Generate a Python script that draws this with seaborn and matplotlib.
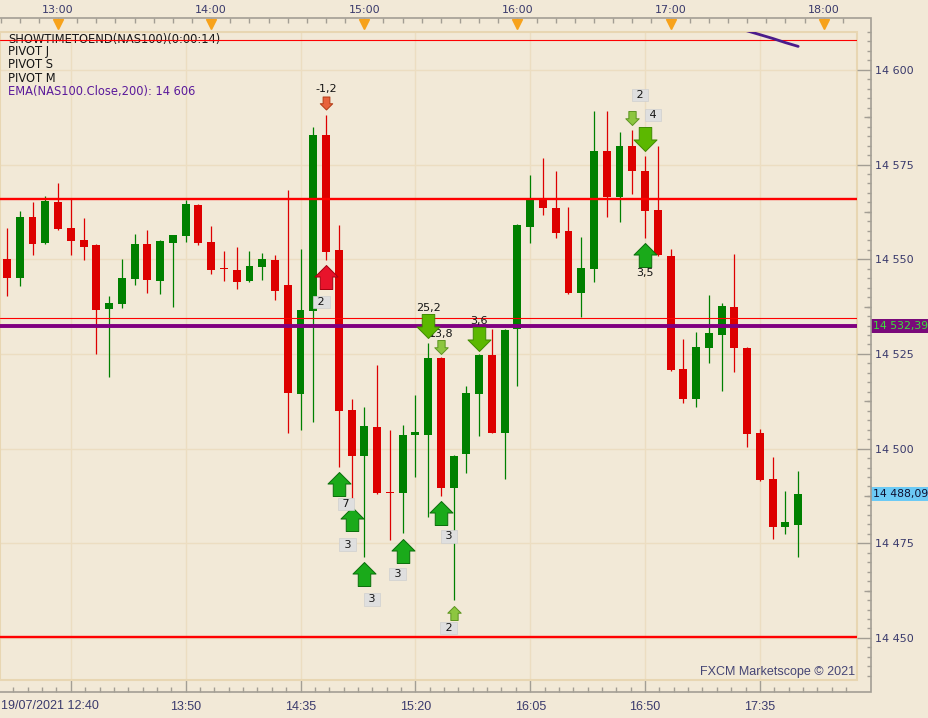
import numpy as np
import pandas as pd
import seaborn as sns
import matplotlib.pyplot as plt
from matplotlib.path import Path
from matplotlib.patches import Rectangle
from matplotlib.ticker import MultipleLocator, FixedLocator, FuncFormatter

# 5 minute NAS100 candles, 19/07/2021, 12:40 -> 17:50
opens = [14550.1, 14545.1, 14561.2, 14554.4, 14565.1, 14558.3, 14555.1, 14553.8, 14536.9, 14538.3,
         14544.9, 14554.0, 14544.3, 14554.4, 14556.2, 14564.3, 14554.6, 14547.6, 14547.2, 14544.3,
         14548.0, 14549.8, 14543.2, 14514.5, 14536.4, 14582.8, 14552.5, 14510.2, 14498.1, 14505.7,
         14488.6, 14488.4, 14503.5, 14503.7, 14523.9, 14489.5, 14498.6, 14514.4, 14524.7, 14504.1,
         14531.5, 14558.6, 14565.8, 14563.5, 14557.5, 14541.2, 14547.5, 14578.6, 14566.5, 14579.9,
         14573.3, 14563.0, 14550.9, 14521.0, 14513.1, 14526.6, 14530.0, 14537.4, 14526.6, 14504.1,
         14492.0, 14479.4, 14479.8]
highs = [14558.2, 14562.8, 14565.1, 14566.7, 14570.1, 14565.8, 14560.9, 14554.0, 14540.3, 14550.1,
         14556.7, 14557.7, 14555.0, 14556.5, 14565.7, 14564.5, 14558.8, 14552.2, 14553.2, 14552.2,
         14551.6, 14551.1, 14568.3, 14552.6, 14584.9, 14588.1, 14559.1, 14513.1, 14511.0, 14522.1,
         14504.9, 14506.2, 14514.2, 14527.8, 14524.2, 14498.3, 14516.4, 14525.0, 14531.5, 14531.7,
         14559.3, 14572.3, 14576.7, 14573.3, 14563.8, 14556.0, 14589.2, 14589.2, 14583.6, 14584.1,
         14577.3, 14579.9, 14552.6, 14529.0, 14530.8, 14540.6, 14538.5, 14551.4, 14526.9, 14505.2,
         14497.8, 14488.8, 14494.1]
lows = [14540.4, 14543.0, 14551.1, 14553.9, 14557.7, 14551.1, 14549.8, 14525.1, 14519.0, 14537.2,
        14543.2, 14541.2, 14540.9, 14537.5, 14554.6, 14553.8, 14546.2, 14544.3, 14542.2, 14544.0,
        14544.5, 14539.3, 14504.2, 14504.9, 14507.1, 14549.8, 14495.2, 14486.9, 14471.5, 14488.0,
        14475.9, 14477.6, 14492.6, 14482.0, 14487.5, 14460.0, 14493.5, 14503.4, 14504.1, 14491.9,
        14516.4, 14554.4, 14561.7, 14555.7, 14540.8, 14534.8, 14544.1, 14561.2, 14559.9, 14567.2,
        14555.7, 14550.8, 14520.5, 14512.1, 14511.1, 14522.7, 14515.2, 14520.1, 14500.3, 14491.5,
        14476.0, 14477.5, 14471.5]
closes = [14545.1, 14561.2, 14554.1, 14565.4, 14558.0, 14554.9, 14553.3, 14536.7, 14538.5, 14545.1,
          14554.0, 14544.6, 14554.8, 14556.4, 14564.6, 14554.2, 14547.2, 14547.3, 14544.0, 14548.2,
          14550.1, 14541.7, 14514.8, 14536.5, 14582.8, 14552.0, 14510.0, 14498.1, 14506.0, 14488.4,
          14488.2, 14503.6, 14504.3, 14523.9, 14489.5, 14498.1, 14514.6, 14524.7, 14504.2, 14531.3,
          14559.0, 14565.8, 14563.4, 14557.0, 14541.2, 14547.7, 14578.6, 14566.5, 14579.9, 14573.4,
          14562.8, 14551.0, 14520.8, 14513.1, 14526.8, 14530.5, 14537.7, 14526.6, 14503.9, 14491.8,
          14479.4, 14480.6, 14488.09]

# EMA(200) tail, only the end enters the chart (top right)
ema_idx = [57, 58, 59, 60, 61, 62]
ema_val = [14611.3, 14610.3, 14609.3, 14608.3, 14607.2, 14606.2]

# pivot lines (red) and the purple level
pivot_levels = [14607.9, 14565.9, 14534.5, 14450.3]
purple_level = 14532.39
last_close = 14488.09

# signal arrows
sig_idx = [25, 26, 27, 28, 31, 34, 35, 50, 25, 33, 34, 37, 49, 50]
sig_price = [14545.3, 14490.7, 14481.4, 14466.9, 14473.0, 14483.0, 14456.6, 14551.1,
             14591.3, 14532.5, 14526.8, 14529.0, 14587.4, 14581.8]
sig_side = ['buy'] * 8 + ['sell'] * 6
sig_kind = ['red', 'big', 'big', 'big', 'big', 'big', 'small', 'big',
            'orange', 'big', 'small', 'big', 'small', 'big']
sig_text = ['2', '7', '3', '3', '3', '3', '2', '3,5', '-1,2', '25,2', '13,8', '3,6', '2', '4']

# time axes
top_hours = ['13:00', '14:00', '15:00', '16:00', '17:00', '18:00']
bottom_times = ['13:05', '13:50', '14:35', '15:20', '16:05', '16:50', '17:35']
bottom_labels = ['', '13:50', '14:35', '15:20', '16:05', '16:50', '17:35']
first_label = '19/07/2021 12:40'

legend_lines = ['SHOWTIMETOEND(NAS100)(0:00:14)', 'PIVOT J', 'PIVOT S', 'PIVOT M']
ema_label = 'EMA(NAS100.Close,200): 14 606'


def to_idx(t):
    hh, mm = map(int, t.split(':'))
    return (hh * 60 + mm - (12 * 60 + 40)) / 5


PX = 0.72  # points per pixel at 100 dpi
BG = '#F2E9D7'
GRID = '#ECDDC1'
AXIS = '#A39E94'
TXT = '#3A3A6C'
GREEN = '#008000'
RED = '#DD0000'

sns.set_style('white')
plt.rcParams['font.family'] = ['DejaVu Sans']

fig = plt.figure(figsize=(9.29, 7.18), dpi=100, facecolor=BG)
ax = fig.add_axes([0, 38 / 718, 857 / 929, 648 / 718], facecolor=BG)

df = pd.DataFrame({'o': opens, 'h': highs, 'l': lows, 'c': closes})
df['idx'] = np.arange(len(df))
col = np.where(df['c'] >= df['o'], GREEN, RED)

# candles
ax.vlines(df['idx'], df['l'], df['h'], colors=col, lw=0.9, zorder=2)
body = np.maximum((df['c'] - df['o']).abs(), 0.35)
ax.bar(df['idx'], body, bottom=np.minimum(df['o'], df['c']), width=0.62,
       color=col, linewidth=0, zorder=2.1)

# horizontal levels
for lev, w in zip(pivot_levels, [0.8, 1.7, 0.8, 1.7]):
    ax.axhline(lev, color='#FF0000', lw=w, zorder=3)
ax.axhline(purple_level, color='#800080', lw=2.8, zorder=3)

sns.lineplot(x=ema_idx, y=ema_val, color='#4B1C8C', lw=2.0, ax=ax, zorder=3)

# arrows
up_verts = np.array([(-0.26, -0.5), (0.26, -0.5), (0.26, 0.02), (0.48, 0.02),
                     (0, 0.5), (-0.48, 0.02), (-0.26, 0.02), (-0.26, -0.5)])
codes = [Path.MOVETO] + [Path.LINETO] * 6 + [Path.CLOSEPOLY]
up_path = Path(up_verts, codes)
down_path = Path(up_verts * [1, -1], codes)

arrow_style = {
    ('buy', 'big'): ('#1AAA1A', '#0A6E0A', 24),
    ('buy', 'red'): ('#E8132B', '#A3000F', 24),
    ('buy', 'small'): ('#8DC640', '#5C9420', 14),
    ('sell', 'big'): ('#5CB800', '#3E8A00', 24),
    ('sell', 'small'): ('#8DC640', '#5C9420', 14),
    ('sell', 'orange'): ('#E8623C', '#B23A14', 13),
}

sig = pd.DataFrame({'idx': sig_idx, 'price': sig_price, 'side': sig_side,
                    'kind': sig_kind, 'text': sig_text})
for (side, kind), g in sig.groupby(['side', 'kind']):
    fc, ec, size = arrow_style[(side, kind)]
    sns.scatterplot(data=g, x='idx', y='price',
                    marker=up_path if side == 'buy' else down_path,
                    s=(size * PX) ** 2, color=fc, edgecolor=ec, linewidth=0.7,
                    ax=ax, legend=False, zorder=4)

# label offsets in pixels (dx right, dy down) from the arrow centre
lab_dx = [-4.5, 7.5, -4, 8, -5, 8, -5, 0, 0, 0, 0, 0, 7.5, 8]
lab_dy = [25, 20, 25.5, 25.5, 23.5, 23.5, 15, 18, -13.5, -17.5, -13, -18, -22.5, -24]
for (_, r), dx, dy in zip(sig.iterrows(), lab_dx, lab_dy):
    if ',' in r['text']:
        ax.annotate(r['text'], (r['idx'], r['price']), xytext=(dx * PX, -dy * PX),
                    textcoords='offset points', ha='center', va='center',
                    fontsize=8, color='#151515', zorder=3.5)
    else:
        ax.annotate(' ' + r['text'] + ' ', (r['idx'], r['price']), xytext=(dx * PX, -dy * PX),
                    textcoords='offset points', ha='center', va='center',
                    fontsize=8, color='#151515', zorder=5,
                    bbox=dict(boxstyle='square,pad=0.1', fc='#DFDFDF', ec='#CFCFCF', lw=0.5))

# main axes: limits, grid, bottom time axis
ax.set_xlim(-0.549, 66.61)
ax.set_ylim(14438.9, 14610.0)
ax.yaxis.set_major_locator(MultipleLocator(25))
ax.tick_params(axis='y', left=False, labelleft=False)
ax.grid(True, color=GRID, lw=1.0)
ax.set_axisbelow(True)
ax.set_xlabel('')
ax.set_ylabel('')

for s in ['left', 'top', 'right', 'bottom']:
    ax.spines[s].set_visible(False)
ax.spines['bottom'].set_position(('outward', 12 * PX))
ax.set_xticks([to_idx(t) for t in bottom_times], bottom_labels)
ax.xaxis.set_minor_locator(FixedLocator(np.arange(5 - 1.125 * 5, 67, 1.125)))
ax.tick_params(axis='x', which='major', direction='in', length=12 * PX, width=1,
               color=AXIS, pad=6.5, labelcolor=TXT, labelsize=9)
ax.tick_params(axis='x', which='minor', direction='in', length=5 * PX, width=1, color=AXIS)
for lab in ax.get_xticklabels():
    lab.set_family('Liberation Sans')

# inner plot frame
ax.add_patch(Rectangle((0, 0), 1, 1, transform=ax.transAxes, fill=False,
                       ec='#E8D6B2', lw=1.5, zorder=1.5, clip_on=False))

# top time axis
axt = ax.twiny()
axt.set_xlim(ax.get_xlim())
for s in ['left', 'bottom', 'right', 'top']:
    axt.spines[s].set_visible(False)
axt.spines['top'].set_position(('outward', 14 * PX))
top_idx = [to_idx(t) for t in top_hours]
axt.set_xticks(top_idx, top_hours)
axt.xaxis.set_minor_locator(FixedLocator(np.arange(-0.5, 67, 1.5)))
axt.tick_params(axis='x', which='both', direction='in', length=5 * PX, width=1,
                color=AXIS, pad=2.5, labelcolor=TXT, labelsize=8)
axt.plot(top_idx, [1 + 8.5 / 648] * len(top_idx), ls='none', marker='v', ms=6.5,
         color='#F7A21B', transform=axt.get_xaxis_transform(), clip_on=False)

# right price axis
ylim = ax.get_ylim()
axr = ax.twinx()
axr.set_ylim(ylim)
for s in ['left', 'top', 'bottom', 'right']:
    axr.spines[s].set_visible(False)
axr.spines['right'].set_position(('outward', 14 * PX))
axr.yaxis.set_major_locator(MultipleLocator(25))
axr.yaxis.set_minor_locator(MultipleLocator(2.5))
axr.yaxis.set_major_formatter(FuncFormatter(lambda v, p: f'{int(round(v)):,}'.replace(',', ' ')))
axr.tick_params(axis='y', which='major', direction='in', length=14 * PX, width=1,
                color=AXIS, pad=3.0, labelcolor=TXT, labelsize=8)
axr.tick_params(axis='y', which='minor', direction='in', length=4 * PX, width=1, color=AXIS)

axr2 = ax.twinx()
axr2.set_ylim(ylim)
for s in ['left', 'top', 'bottom', 'right']:
    axr2.spines[s].set_visible(False)
axr2.spines['right'].set_position(('outward', 14 * PX))
axr2.yaxis.set_major_locator(FixedLocator(np.arange(14437.5, 14625, 25)))
axr2.tick_params(axis='y', direction='in', length=7 * PX, width=1, color=AXIS,
                 labelright=False)

# outer axis frame: top, right and bottom axis lines
fig.add_artist(Rectangle((-0.01, 1 - 692 / 718), 0.01 + 871 / 929, (692 - 18) / 718,
                         transform=fig.transFigure, fill=False, ec=AXIS, lw=1.2))

# price tags on the right axis
for val, fc, tc in [(purple_level, '#7A0A7A', '#3BE03B'), (last_close, '#6CCAF5', '#101030')]:
    txt = f'{val:,.2f}'.replace(',', ' ').replace('.', ',')
    axr.annotate(txt, xy=(1, val), xycoords=axr.get_yaxis_transform(),
                 xytext=(16 * PX, 0), textcoords='offset points', ha='left', va='center',
                 fontsize=7.8, color=tc, annotation_clip=False, zorder=6,
                 bbox=dict(boxstyle='square,pad=0.2', fc=fc, ec='none'))

# indicator legend and texts
for k, t in enumerate(legend_lines):
    ax.text(8 / 929, 1 - (39 + 13 * k) / 718, t, transform=fig.transFigure,
            fontsize=8.3, color='#161616', va='center', ha='left', zorder=2.5)
ax.text(8 / 929, 1 - 91 / 718, ema_label, transform=fig.transFigure,
        fontsize=8.3, color='#5B1A9B', va='center', ha='left', zorder=2.5)

ax.text(855 / 929, 1 - 672 / 718, 'FXCM Marketscope \u00a9 2021', transform=fig.transFigure,
        ha='right', va='center', fontsize=9, family='Liberation Sans', color='#454575')
fig.text(1 / 929, 1 - 706 / 718, first_label, ha='left', va='center',
         family='Liberation Sans', fontsize=9, color=TXT)

fig.savefig('out.png', dpi=100, facecolor=BG)
